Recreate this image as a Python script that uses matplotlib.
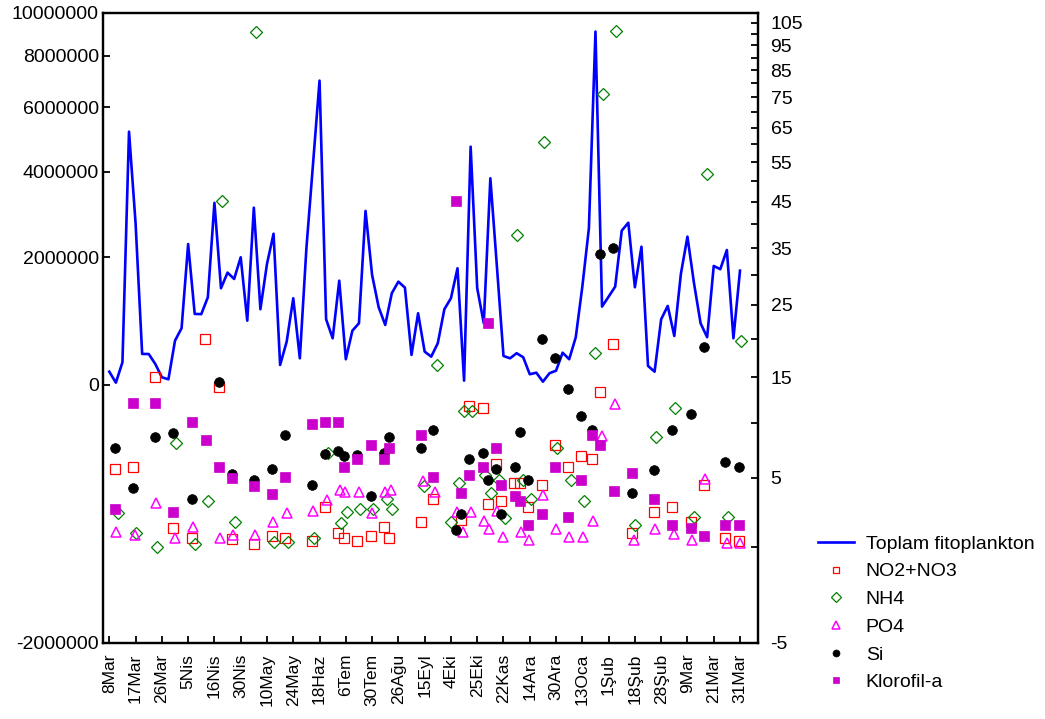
import numpy as np
import matplotlib
matplotlib.use("Agg")
import matplotlib.pyplot as plt
from matplotlib.lines import Line2D

plt.rcParams['font.family'] = ['Liberation Sans', 'DejaVu Sans']

# ---------------- data ----------------
date_labels = ["8Mar", "17Mar", "26Mar", "5Nis", "16Nis", "30Nis", "10May", "24May",
               "18Haz", "6Tem", "30Tem", "26Ağu", "15Eyl", "4Eki", "25Eki", "22Kas",
               "14Ara", "30Ara", "13Oca", "1Şub", "18Şub", "28Şub", "9Mar", "21Mar", "31Mar"]
samples_per_label = 4

# Toplam fitoplankton (millions of cells), one value per sample
phyto_millions = [
    0.166, 0.028, 0.289, 5.19, 2.72, 0.401, 0.40, 0.266, 0.095, 0.070,
    0.588, 0.771, 2.27, 0.993, 0.99, 1.268, 3.20, 1.424, 1.707, 1.590,
    2.002, 0.887, 3.083, 1.069, 1.872, 2.49, 0.253, 0.574, 1.251, 0.342,
    2.183, 4.2, 6.99, 0.909, 0.622, 1.559, 0.329, 0.735, 0.847, 3.006,
    1.664, 1.102, 0.821, 1.337, 1.541, 1.434, 0.388, 1.004, 0.433, 0.364,
    0.551, 1.069, 1.251, 1.789, 0.053, 4.725, 1.424, 0.847, 3.827, 1.820,
    0.373, 0.342, 0.411, 0.356, 0.133, 0.153, 0.040, 0.146, 0.179, 0.418,
    0.329, 0.637, 1.452, 2.61, 9.08, 1.112, 1.278, 1.452, 2.557, 2.734,
    1.441, 2.216, 0.24, 0.166, 0.909, 1.123, 0.656, 1.682, 2.427, 1.512,
    0.847, 0.637, 1.833, 1.771, 2.148, 0.622, 1.744]

no3_x = [0.82, 3.65, 6.91, 9.74, 12.59, 14.61, 16.65, 18.72, 21.98, 24.69, 26.74,
         30.81, 32.83, 34.86, 35.72, 37.75, 39.79, 41.81, 42.62, 47.49, 49.32, 53.58,
         54.79, 56.83, 57.69, 58.86, 59.67, 61.55, 62.56, 63.77, 65.81, 67.84, 69.86,
         71.84, 73.51, 74.73, 76.71, 79.56, 82.86, 85.69, 88.54, 90.56, 93.76, 95.8]
no3_v = [5.69, 5.89, 15.08, 1.28, 0.57, 19.93, 13.83, 0.52, 0.23, 0.75, 0.62,
         0.40, 2.75, 0.95, 0.57, 0.40, 0.75, 1.30, 0.57, 1.64, 3.36, 1.78,
         11.79, 11.51, 2.97, 6.18, 3.16, 4.58, 4.58, 2.77, 4.39, 7.87, 5.89,
         6.85, 6.58, 13.26, 19.25, 0.90, 2.39, 2.75, 1.64, 4.39, 0.57, 0.40]

nh4_x = [1.32, 4.11, 7.31, 10.15, 13.0, 15.02, 17.11, 19.09, 22.33, 25.11, 27.15,
         31.2, 33.24, 35.31, 36.14, 38.16, 40.18, 42.22, 43.03, 47.95, 49.88, 51.96,
         53.18, 53.99, 55.21, 57.23, 58.05, 59.27, 60.18, 62.1, 62.92, 64.19, 66.16,
         68.19, 70.23, 72.3, 73.93, 75.1, 77.12, 80.02, 83.26, 86.1, 88.95, 90.93,
         94.22, 96.19]
nh4_v = [2.32, 0.95, 0.04, 7.99, 0.21, 3.16, 45.1, 1.64, 101.0, 0.36, 0.36,
         0.57, 7.08, 1.62, 2.39, 2.57, 2.57, 3.31, 2.57, 4.34, 16.5, 1.64,
         4.60, 11.22, 11.22, 5.25, 3.76, 4.81, 1.96, 37.6, 4.81, 3.36, 60.6,
         7.56, 4.78, 3.16, 18.0, 76.2, 101.5, 1.45, 8.55, 11.51, 2.00, 51.75,
         2.00, 19.6]

po4_x = [1.02, 3.87, 7.11, 9.95, 12.79, 16.85, 18.87, 22.13, 24.96, 27.0, 31.05,
         33.09, 35.11, 35.92, 37.96, 39.98, 42.01, 42.83, 47.7, 49.57, 52.97, 53.79,
         55.01, 57.03, 57.84, 59.06, 59.88, 62.71, 63.93, 65.97, 67.99, 70.02, 72.05,
         73.67, 74.95, 76.97, 79.82, 83.06, 85.9, 88.74, 90.71, 94.02, 96.04]
po4_v = [0.97, 0.79, 3.01, 0.62, 1.35, 0.62, 0.79, 0.79, 1.69, 2.27, 2.45,
         3.23, 4.05, 3.87, 3.87, 2.27, 3.87, 4.05, 4.70, 3.87, 2.34, 1.01,
         2.34, 1.73, 1.19, 2.47, 0.66, 1.01, 0.48, 3.66, 1.19, 0.66, 0.66,
         1.73, 8.69, 11.94, 0.46, 1.19, 0.84, 0.46, 4.92, 0.31, 0.31]

si_x = [0.82, 3.65, 6.91, 9.74, 12.59, 16.65, 18.72, 21.98, 24.69, 26.74, 30.81,
        32.83, 34.86, 35.72, 37.75, 39.79, 41.81, 42.62, 47.49, 49.32, 52.77, 53.58,
        54.79, 56.83, 57.69, 58.86, 59.67, 61.71, 62.56, 63.77, 65.81, 67.84, 69.86,
        71.84, 73.51, 74.69, 76.71, 79.56, 82.86, 85.69, 88.54, 90.52, 93.76, 95.8]
si_v = [7.53, 4.18, 8.55, 9.03, 3.34, 14.48, 5.27, 4.84, 5.69, 8.81, 4.39,
        7.05, 7.29, 6.85, 6.90, 3.56, 7.14, 8.55, 7.56, 9.32, 1.12, 2.20,
        6.61, 7.08, 4.78, 5.69, 2.20, 5.92, 9.07, 4.78, 19.93, 17.43, 13.57,
        10.67, 9.32, 33.93, 34.96, 3.76, 5.67, 9.32, 10.91, 18.84, 6.35, 5.89]

chl_x = [0.82, 3.65, 6.91, 9.74, 12.59, 14.67, 16.65, 18.72, 21.98, 24.69, 26.74,
         30.81, 32.83, 34.86, 35.72, 37.75, 39.79, 41.81, 42.62, 47.49, 49.32, 52.77,
         53.58, 54.79, 56.83, 57.69, 58.86, 59.67, 61.71, 62.56, 63.77, 65.81, 67.84,
         69.86, 71.84, 73.47, 74.73, 76.77, 79.56, 82.86, 85.69, 88.54, 90.56, 93.76,
         95.8]
chl_v = [2.57, 12.05, 12.05, 2.39, 10.09, 8.27, 5.89, 5.00, 4.36, 3.74, 5.03,
         9.86, 10.11, 10.11, 5.92, 6.61, 7.80, 6.61, 7.56, 8.81, 5.03, 45.2,
         3.76, 5.25, 5.92, 22.2, 7.56, 4.39, 3.56, 3.16, 1.45, 2.20, 5.92,
         2.00, 4.81, 8.81, 7.80, 3.97, 5.41, 3.36, 1.45, 1.28, 0.75, 1.45,
         1.45]

left_ticks = [-2000000, 0, 2000000, 4000000, 6000000, 8000000, 10000000]
right_major = [-5, 5, 15, 25, 35, 45, 55, 65, 75, 85, 95, 105]
right_minor = [0, 10, 20, 30, 40, 50, 60, 70, 80, 90, 100]

# ---------------- scales ----------------
L_OFF = 3.2e6
R_OFF = 16.4

def fwd_left(v):
    return np.log10(np.clip(np.asarray(v, float) + L_OFF, 1.0, None))

def inv_left(t):
    return 10 ** np.asarray(t, float) - L_OFF

def fwd_right(v):
    return np.log10(np.clip(np.asarray(v, float) + R_OFF, 1e-6, None))

def inv_right(t):
    return 10 ** np.asarray(t, float) - R_OFF

FS = 14
FS_X = 12.5

# ---------------- figure ----------------
fig = plt.figure(figsize=(10.45, 7.19), dpi=100)
ax = fig.add_axes([103 / 1045, 1 - 642.7 / 719, (758 - 103) / 1045, (642.7 - 12.6) / 719])
ax2 = ax.twinx()

phyto = np.array(phyto_millions) * 1e6
x_line = np.arange(len(phyto))
ax.plot(x_line, phyto, color='#0000FF', lw=1.9, zorder=3)

ax.set_yscale('function', functions=(fwd_left, inv_left))
ax.set_ylim(-2000000, 10000000)
ax.set_yticks(left_ticks)
ax.set_yticklabels([str(t) for t in left_ticks])
ax.set_xlim(-0.96, 98.74)
ax.set_xticks(np.arange(len(date_labels)) * samples_per_label)
ax.set_xticklabels(date_labels, rotation=90)

ax2.set_yscale('function', functions=(fwd_right, inv_right))
ax2.set_ylim(-4.92, 109.9)
ax2.set_yticks(right_major)
ax2.set_yticklabels([str(t) for t in right_major])
ax2.set_yticks(right_minor, minor=True)
ax2.yaxis.set_minor_formatter(plt.NullFormatter())

styles = {
    'no3': dict(marker='s', mfc='none', mec='#FF0000', mew=0.9),
    'nh4': dict(marker='D', mfc='none', mec='#008000', mew=0.9),
    'po4': dict(marker='^', mfc='none', mec='#FF00FF', mew=1.1),
    'si': dict(marker='o', mfc='black', mec='black', mew=0.5),
    'chl': dict(marker='s', mfc='#CC00CC', mec='#CC00CC', mew=0.5),
}
sizes = {'no3': 7.0, 'nh4': 6.3, 'po4': 7.8, 'si': 7.0, 'chl': 7.0}
leg_sizes = {'no3': 5.0, 'nh4': 5.0, 'po4': 5.5, 'si': 5.0, 'chl': 5.0}

ax2.plot(no3_x, no3_v, ls='none', ms=sizes['no3'], **styles['no3'])
ax2.plot(nh4_x, nh4_v, ls='none', ms=sizes['nh4'], **styles['nh4'])
ax2.plot(po4_x, po4_v, ls='none', ms=sizes['po4'], **styles['po4'])
ax2.plot(si_x, si_v, ls='none', ms=sizes['si'], **styles['si'])
ax2.plot(chl_x, chl_v, ls='none', ms=sizes['chl'], **styles['chl'])

for a in (ax, ax2):
    for s in a.spines.values():
        s.set_linewidth(1.6)

ax.tick_params(axis='both', which='both', direction='in', length=5, width=1.3,
               labelsize=FS, right=False)
ax.tick_params(axis='y', pad=3)
ax.tick_params(axis='x', pad=8, labelsize=FS_X)
ax2.tick_params(axis='y', which='both', direction='in', length=5, width=1.3,
                labelsize=FS, pad=9, left=False)

handles = [Line2D([], [], color='#0000FF', lw=1.9)]
for key in ['no3', 'nh4', 'po4', 'si', 'chl']:
    handles.append(Line2D([], [], ls='none', ms=leg_sizes[key], **styles[key]))
fig.legend(handles,
           ["Toplam fitoplankton", "NO2+NO3", "NH4", "PO4", "Si", "Klorofil-a"],
           loc='upper left', bbox_to_anchor=(818 / 1045, 1 - 535 / 719),
           frameon=False, fontsize=FS, handlelength=1.85, handletextpad=0.6,
           labelspacing=0.52, borderpad=0, borderaxespad=0)

fig.savefig("out.png", dpi=100)
